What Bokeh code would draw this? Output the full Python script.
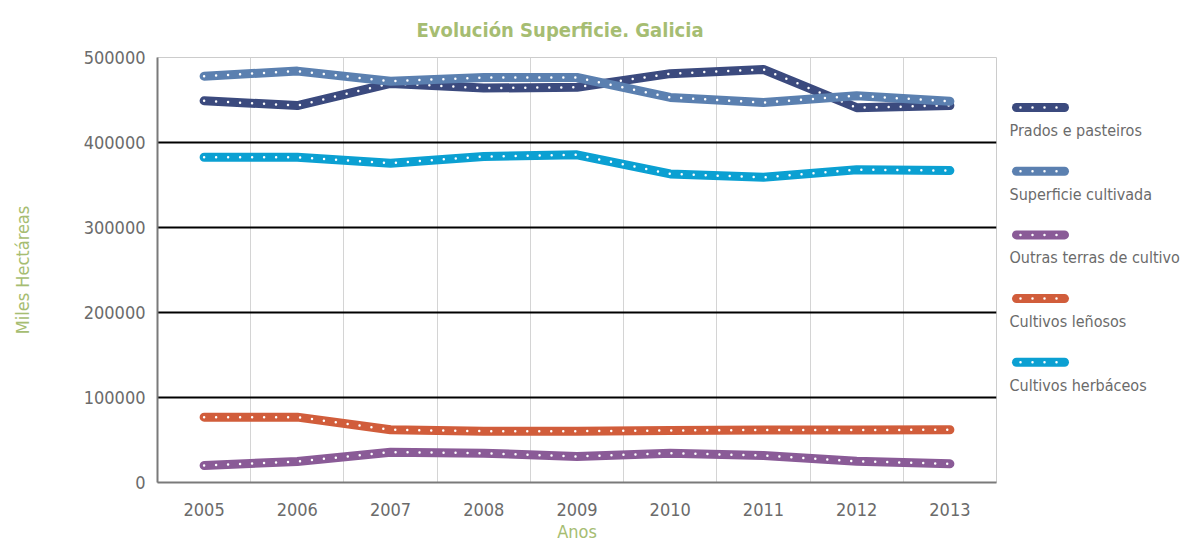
from bokeh.plotting import figure
from bokeh.models import Range1d, FixedTicker
from bokeh.layouts import row
from bokeh.embed import file_html
from bokeh.resources import INLINE
from bokeh.core.properties import value

years = [2005, 2006, 2007, 2008, 2009, 2010, 2011, 2012, 2013]
prados = [449000, 443500, 469500, 464000, 465000, 481000, 486000, 441000, 443500]
superficie = [478000, 484000, 472000, 476500, 476500, 453000, 447000, 455000, 448500]
outras = [20000, 24700, 35700, 34500, 30600, 34500, 31800, 25000, 22000]
lenosos = [76900, 76900, 62000, 60400, 60400, 61200, 61800, 61800, 62000]
herbaceos = [382700, 382700, 375700, 383500, 385500, 363000, 359000, 368000, 367000]

names = ["Prados e pasteiros", "Superficie cultivada", "Outras terras de cultivo",
         "Cultivos leñosos", "Cultivos herbáceos"]
series = [prados, superficie, outras, lenosos, herbaceos]
colors = ["#3b4a7e", "#5b80b0", "#8a5b97", "#d15d3b", "#0ba0d2"]
y_ticks = [0, 100000, 200000, 300000, 400000, 500000]

FONT = "DejaVu Sans Condensed"
GREEN = "#a6bd72"
GRAY = "#6b6b6b"

p = figure(width=1004, height=549, output_backend="svg", toolbar_location=None,
           x_range=Range1d(2004.5, 2013.5), y_range=Range1d(0, 500000),
           min_border_left=157, min_border_right=8, min_border_top=57,
           min_border_bottom=67)
p.title.text = "Evolución Superficie. Galicia"
p.title.align = "left"
p.title.text_font = FONT
p.title.text_font_size = "20px"
p.title.text_font_style = "bold"
p.title.text_color = GREEN
p.title.offset = 259
p.title.standoff = 31

for vals, col in zip(series, colors):
    p.line(years, vals, line_color=col, line_width=9, line_cap="round", line_join="round")
    p.line(years, vals, line_color="white", line_width=2.5, line_cap="round",
           line_dash="0 12")

p.xaxis.ticker = FixedTicker(ticks=years)
p.yaxis.ticker = FixedTicker(ticks=y_ticks)
p.xgrid.ticker = FixedTicker(ticks=[y + 0.5 for y in years[:-1]])
p.xgrid.grid_line_color = "#d4d4d4"
p.xgrid.grid_line_width = 1
p.ygrid.ticker = FixedTicker(ticks=y_ticks[1:])
p.ygrid.grid_line_color = "black"
p.ygrid.grid_line_width = 2
p.outline_line_color = "#cccccc"
p.outline_line_width = 1

for ax in (p.xaxis[0], p.yaxis[0]):
    ax.major_tick_line_color = None
    ax.minor_tick_line_color = None
    ax.axis_line_color = "#7a7a7a"
    ax.axis_line_width = 2
    ax.major_label_text_font = FONT
    ax.major_label_text_font_size = "18px"
    ax.major_label_text_color = GRAY
    ax.axis_label_text_font = FONT
    ax.axis_label_text_font_size = "18px"
    ax.axis_label_text_color = GREEN
    ax.axis_label_text_font_style = "normal"

p.xaxis.major_label_standoff = 14
p.xaxis.axis_label = "Anos"
p.xaxis.axis_label_standoff = 2
p.yaxis.major_label_standoff = 6
p.yaxis.axis_label = "Miles Hectáreas"
p.yaxis.axis_label_standoff = 48
p.yaxis.formatter.use_scientific = False

# legend panel (frame aligned with main frame: y in page pixels)
lg = figure(width=183, height=549, output_backend="svg", toolbar_location=None,
            x_range=Range1d(0, 183), y_range=Range1d(482, 57),
            min_border_left=0, min_border_right=0, min_border_top=57,
            min_border_bottom=67)
lg.axis.visible = False
lg.grid.visible = False
lg.outline_line_color = None
for i, (name, col) in enumerate(zip(names, colors)):
    gy = 107 + i * 63.7
    lg.line([12, 60], [gy, gy], line_color=col, line_width=9, line_cap="round")
    lg.line([16, 60], [gy, gy], line_color="white", line_width=2.5, line_cap="round",
            line_dash="0 12")
    lg.text([5], [gy + 23], text=[name], text_font=value(FONT), text_font_size="16px",
            text_color=GRAY, text_baseline="middle", text_align="left")

layout = row(p, lg, spacing=0)
open("out.html", "w").write(file_html(layout, INLINE))
